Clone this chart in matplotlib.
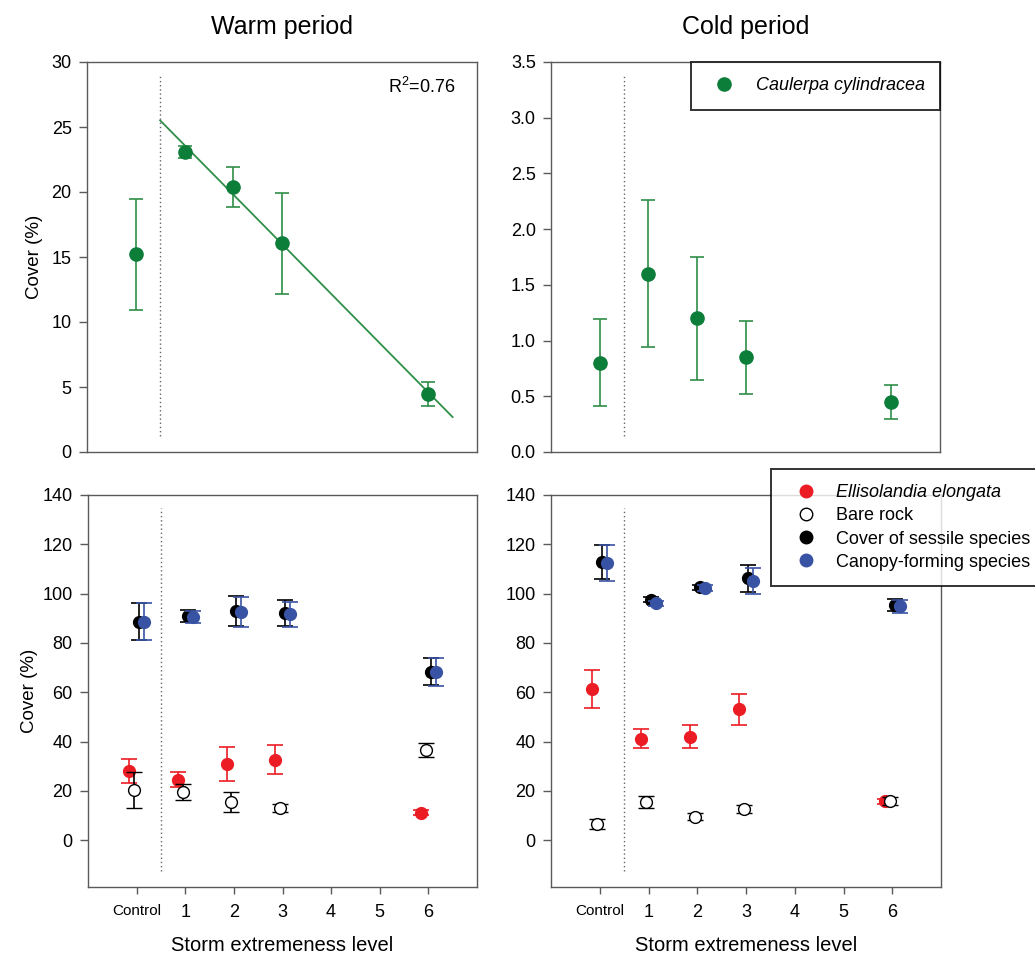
import numpy as np
import matplotlib
matplotlib.use("Agg")
import matplotlib.pyplot as plt
from matplotlib.lines import Line2D

plt.rcParams['font.family'] = ['Liberation Sans', 'DejaVu Sans']
plt.rcParams['mathtext.fontset'] = 'custom'
plt.rcParams['mathtext.rm'] = 'Liberation Sans'
plt.rcParams['mathtext.it'] = 'Liberation Sans:italic'

# ---------------- data ----------------
levels = [0, 1, 2, 3, 6]                      # 0 = Control
tick_positions = [0, 1, 2, 3, 4, 5, 6]
tick_labels = ['Control', '1', '2', '3', '4', '5', '6']

# Caulerpa cylindracea cover (%)
warm_caul_mean = [15.2, 23.1, 20.4, 16.05, 4.45]
warm_caul_err = [4.3, 0.45, 1.55, 3.9, 0.9]
cold_caul_mean = [0.80, 1.60, 1.20, 0.85, 0.45]
cold_caul_err = [0.39, 0.66, 0.55, 0.33, 0.15]
r2_text = r'R$^{2}$=0.76'

# Warm period, lower panel
warm_elli_mean = [28.0, 24.6, 30.7, 32.6, 11.2]
warm_elli_err = [4.8, 2.9, 6.9, 5.8, 1.0]
warm_bare_mean = [20.4, 19.5, 15.5, 13.1, 36.6]
warm_bare_err = [7.2, 3.2, 3.9, 1.6, 2.7]
warm_sess_mean = [88.6, 90.9, 93.0, 92.1, 68.3]
warm_sess_err = [7.5, 2.4, 6.0, 5.3, 5.5]
warm_cano_mean = [88.6, 90.5, 92.5, 91.6, 68.2]
warm_cano_err = [7.5, 2.3, 6.0, 5.0, 5.5]

# Cold period, lower panel
cold_elli_mean = [61.5, 41.2, 41.9, 53.0, 15.8]
cold_elli_err = [7.7, 3.8, 4.7, 6.3, 1.0]
cold_bare_mean = [6.5, 15.6, 9.5, 12.7, 15.9]
cold_bare_err = [2.1, 2.4, 1.5, 1.5, 1.6]
cold_sess_mean = [112.9, 97.5, 102.6, 106.2, 95.5]
cold_sess_err = [7.0, 1.0, 1.0, 5.4, 2.5]
cold_cano_mean = [112.4, 96.0, 102.4, 105.0, 94.8]
cold_cano_err = [7.2, 1.0, 1.2, 5.2, 2.7]

# ---------------- styles ----------------
GREEN = '#0d7d3a'
GREEN_E = '#2f8f48'
RED = '#ec1c24'
BLUE = '#3953a4'
SPINE = '#5a5a5a'

fig = plt.figure(figsize=(10.35, 9.6), dpi=100)
W, H = 1035, 960

def ax_at(l, t, r, b):
    return fig.add_axes([l / W, 1 - b / H, (r - l) / W, (b - t) / H])

ax_tl = ax_at(87, 62, 477, 452)
ax_tr = ax_at(551, 62, 940, 452)
ax_bl = ax_at(88, 495, 477, 887)
ax_br = ax_at(551, 495, 941, 887)

for ax in (ax_tl, ax_tr, ax_bl, ax_br):
    ax.set_xlim(-1, 7)
    for s in ax.spines.values():
        s.set_color(SPINE)
        s.set_linewidth(1.0)
    ax.tick_params(axis='y', direction='out', length=6, width=1, color=SPINE,
                   labelsize=13, pad=5)
    ax.axvline(0.5, color='#666666', linestyle=(0, (1, 2)), linewidth=1.0,
               ymin=0.04, ymax=0.968)

# top panels
for ax in (ax_tl, ax_tr):
    ax.set_xticks([])

lv = np.array(levels, dtype=float)

ax_tl.errorbar(lv, warm_caul_mean, yerr=warm_caul_err, fmt='o', color=GREEN,
               ecolor=GREEN_E, markersize=9.5, elinewidth=1.2, capsize=5,
               capthick=1.2, zorder=3)
# linear fit over storm levels (exclude control)
slope, intercept = np.polyfit(lv[1:], np.array(warm_caul_mean[1:]), 1)
xf = np.array([0.5, 6.5])
ax_tl.plot(xf, slope * xf + intercept, color=GREEN_E, linewidth=1.3, zorder=2)
ax_tl.set_ylim(0, 30)
ax_tl.set_yticks(np.arange(0, 31, 5))
ax_tl.text(0.944, 0.936, r2_text, transform=ax_tl.transAxes, ha='right',
           va='center', fontsize=13)
ax_tl.set_ylabel('Cover (%)', fontsize=13.5, labelpad=6)

ax_tr.errorbar(lv, cold_caul_mean, yerr=cold_caul_err, fmt='o', color=GREEN,
               ecolor=GREEN_E, markersize=9.5, elinewidth=1.2, capsize=5,
               capthick=1.2, zorder=3)
ax_tr.set_ylim(0, 3.5)
ax_tr.set_yticks(np.arange(0, 3.51, 0.5))
ax_tr.set_yticklabels(['%.1f' % v for v in np.arange(0, 3.51, 0.5)])

leg_top = ax_tr.legend(handles=[Line2D([], [], marker='o', linestyle='none',
                                       color=GREEN, markersize=9.5)],
                       labels=['Caulerpa cylindracea'], loc='upper right',
                       bbox_to_anchor=(1.0, 1.0), borderaxespad=0.0,
                       fancybox=False, edgecolor='black',
                       prop={'style': 'italic', 'size': 13},
                       handletextpad=0.75, borderpad=0.85, handlelength=2.0)
leg_top.get_frame().set_linewidth(1.4)

ax_tl.set_title('Warm period', fontsize=18, pad=20)
ax_tr.set_title('Cold period', fontsize=18, pad=20)

# bottom panels
offs = {'elli': -0.15, 'bare': -0.05, 'sess': 0.05, 'cano': 0.15}

def lower(ax, elli_m, elli_e, bare_m, bare_e, sess_m, sess_e, cano_m, cano_e):
    kw = dict(markersize=8.5, elinewidth=1.2, capsize=6, capthick=1.2)
    ax.errorbar(lv + offs['elli'], elli_m, yerr=elli_e, fmt='o', color=RED,
                ecolor=RED, zorder=3, **kw)
    ax.errorbar(lv + offs['bare'], bare_m, yerr=bare_e, fmt='o', color='black',
                markerfacecolor='white', markeredgecolor='black',
                markeredgewidth=1.0, ecolor='black', zorder=4, **kw)
    ax.errorbar(lv + offs['sess'], sess_m, yerr=sess_e, fmt='o', color='black',
                ecolor='black', zorder=5, **kw)
    ax.errorbar(lv + offs['cano'], cano_m, yerr=cano_e, fmt='o', color=BLUE,
                ecolor=BLUE, zorder=6, **kw)
    ax.set_ylim(-19, 140)
    ax.set_yticks(np.arange(0, 141, 20))
    ax.set_xticks(tick_positions)
    ax.set_xticklabels(tick_labels)
    ax.tick_params(axis='x', direction='out', length=5, width=1, color=SPINE,
                   labelsize=13, pad=7)
    lab0 = ax.get_xticklabels()[0]
    lab0.set_fontsize(11)
    ax.set_xlabel('Storm extremeness level', fontsize=14.5, labelpad=11)

lower(ax_bl, warm_elli_mean, warm_elli_err, warm_bare_mean, warm_bare_err,
      warm_sess_mean, warm_sess_err, warm_cano_mean, warm_cano_err)
lower(ax_br, cold_elli_mean, cold_elli_err, cold_bare_mean, cold_bare_err,
      cold_sess_mean, cold_sess_err, cold_cano_mean, cold_cano_err)
ax_bl.set_ylabel('Cover (%)', fontsize=13.5, labelpad=3)

# bottom legend (extends past the right edge of the figure, as in the reference)
handles = [
    Line2D([], [], marker='o', linestyle='none', color=RED, markersize=9),
    Line2D([], [], marker='o', linestyle='none', markerfacecolor='white',
           markeredgecolor='black', markersize=9),
    Line2D([], [], marker='o', linestyle='none', color='black', markersize=9),
    Line2D([], [], marker='o', linestyle='none', color=BLUE, markersize=9),
]
labels = ['Ellisolandia elongata', 'Bare rock', 'Cover of sessile species',
          'Canopy-forming species']
leg = fig.legend(handles=handles, labels=labels, loc='upper left',
                 bbox_to_anchor=(771 / W, 1 - 469 / H), fancybox=False,
                 edgecolor='black', prop={'size': 13}, handletextpad=0.55,
                 borderpad=0.85, labelspacing=0.34, handlelength=2.2,
                 borderaxespad=0.0)
leg.get_frame().set_linewidth(1.4)
leg.get_texts()[0].set_style('italic')

fig.savefig('out.png', dpi=100)
